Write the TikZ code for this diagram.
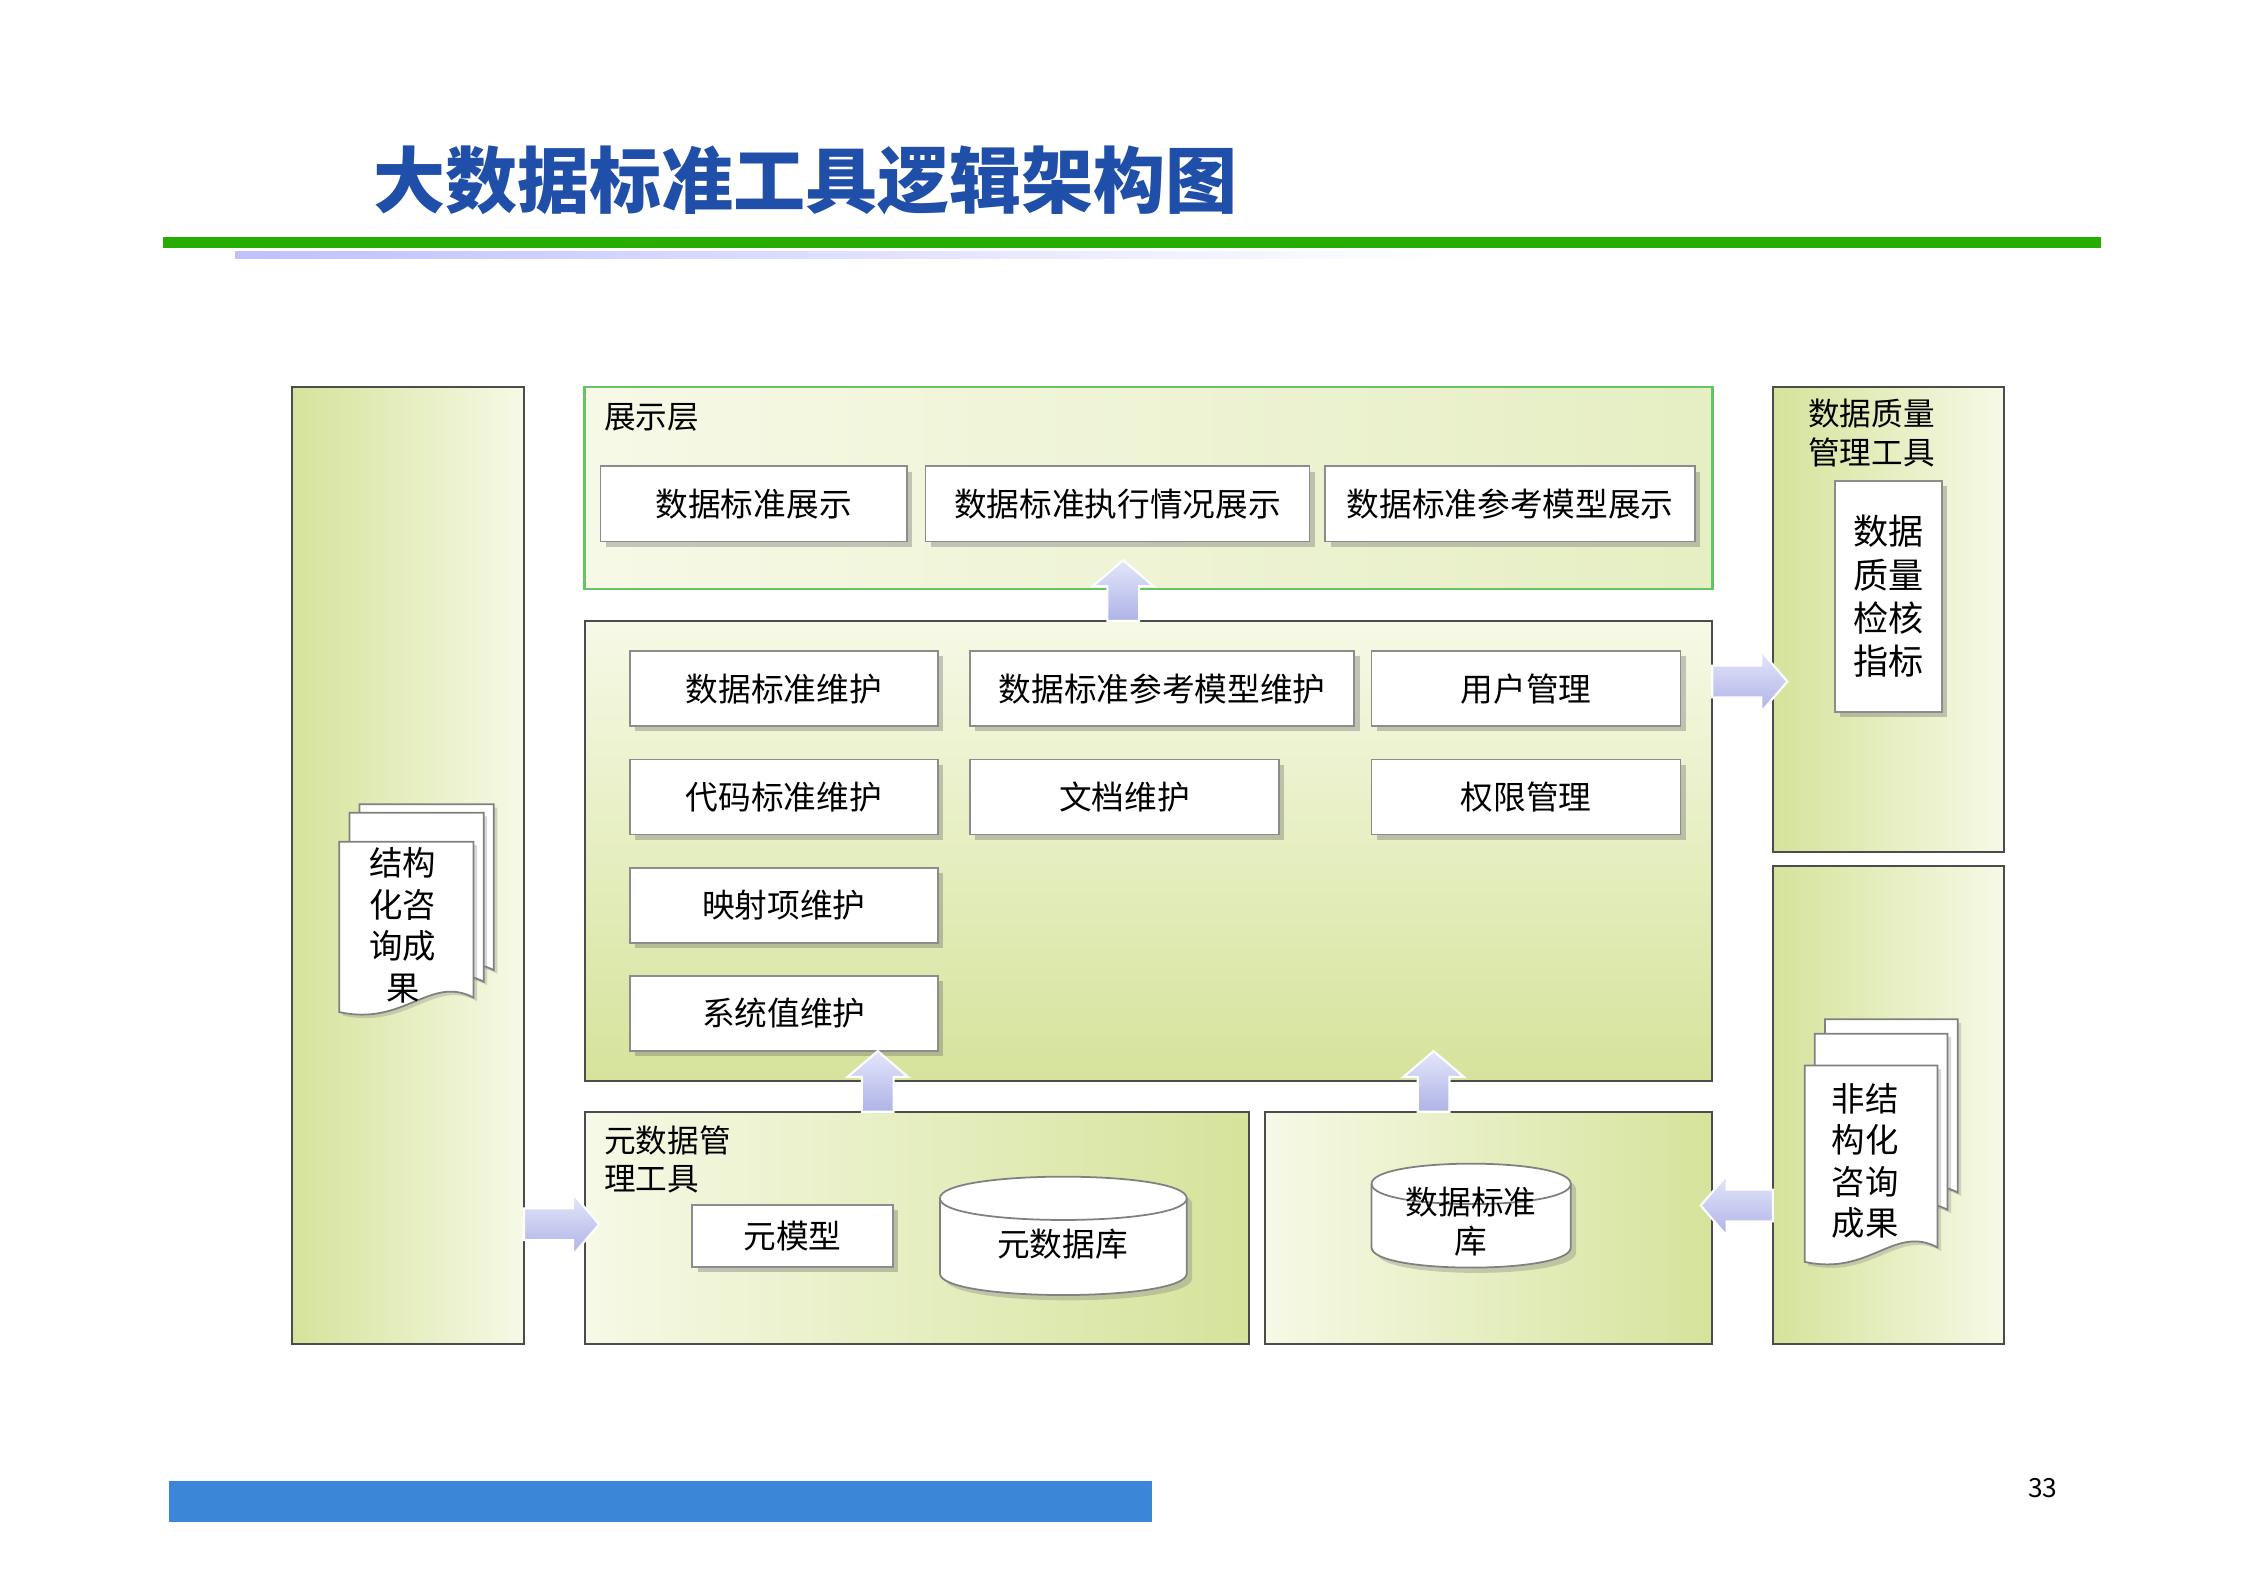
\documentclass[tikz,border=0pt]{standalone}
\usepackage{fontspec}
\setmainfont{Noto Sans CJK SC}
\usetikzlibrary{shadows}
\definecolor{titleblue}{HTML}{1F4FA8}
\definecolor{lgreen}{HTML}{D5E39B}
\definecolor{pgreen}{HTML}{F6F9E6}
\definecolor{arrowA}{HTML}{E4E6FA}
\definecolor{arrowB}{HTML}{AEB3E6}
\newcommand{\uu}{0.01444cm}
\tikzset{
 panel/.style={draw=black!70, line width=0.6pt, left color=lgreen, right color=pgreen},
 mbox/.style={draw=black!45, fill=white, line width=0.5pt, font=\fontsize{9.3}{11}\selectfont, drop shadow={shadow xshift=1.5pt, shadow yshift=-1.5pt, opacity=0.35, fill=black!60}},
 lbl/.style={font=\fontsize{9}{11}\selectfont, align=left, anchor=north west, inner sep=0pt},
 barrow/.style={top color=arrowA, bottom color=arrowB, draw=white, line width=0.6pt},
 doc/.style={fill=white, draw=black!50, line width=0.5pt},
}
\newcommand{\uparr}[3]{% cx, ybottom, ytop
 \filldraw[barrow] (#1-11,#2) -- (#1-11,#3+18) -- (#1-21,#3+18) -- (#1,#3) -- (#1+21,#3+18) -- (#1+11,#3+18) -- (#1+11,#2) -- cycle;}
\newcommand{\rarr}[3]{% cy, xleft, xright
 \filldraw[barrow] (#2,#1-11) -- (#3-18,#1-11) -- (#3-18,#1-21) -- (#3,#1) -- (#3-18,#1+21) -- (#3-18,#1+11) -- (#2,#1+11) -- cycle;}
\newcommand{\larr}[3]{% cy, xleft(tip), xright
 \filldraw[barrow] (#3,#1-11) -- (#2+18,#1-11) -- (#2+18,#1-21) -- (#2,#1) -- (#2+18,#1+21) -- (#2+18,#1+11) -- (#3,#1+11) -- cycle;}
\newcommand{\page}[4]{% l t r b
 \filldraw[doc, drop shadow={shadow xshift=1pt, shadow yshift=-1pt, opacity=0.3}] (#1,#2) -- (#3,#2) -- (#3,#4-14) .. controls (#3-30,#4-30) and (#1+45,#4+6) .. (#1,#4-4) -- cycle;}
\newcommand{\cyl}[5]{% x1 y1 x2 y2 ry
 \filldraw[doc, drop shadow={shadow xshift=1.5pt, shadow yshift=-1.5pt, opacity=0.35}] (#1,#2+#5) -- (#1,#4-#5) .. controls (#1,#4+#5/3) and (#3,#4+#5/3) .. (#3,#4-#5) -- (#3,#2+#5) .. controls (#3,#2-#5/3) and (#1,#2-#5/3) .. (#1,#2+#5) -- cycle;
 \draw[black!50, line width=0.5pt] (#1,#2+#5) .. controls (#1,#2+#5*7/3) and (#3,#2+#5*7/3) .. (#3,#2+#5);}
\begin{document}
\begin{tikzpicture}[x=\uu, y=-\uu]
\useasboundingbox (0,0) rectangle (1555,1100);
% title
\node[anchor=west, inner sep=0pt, text=titleblue, font=\fontsize{20.5}{24}\selectfont\bfseries] (title) at (258,125) {大数据标准工具逻辑架构图};
\fill[green!60!black!80!lime] (113,164) rectangle (1455,172);
\shade[left color=blue!25, right color=white] (163,174) rectangle (1000,179);
\fill[color={rgb,255:red,60;green,134;blue,216}] (117,1026) rectangle (798,1054);
\node[font=\fontsize{7.5}{9}\selectfont] (pg) at (1415,1031) {33};
% panels
\filldraw[panel] (202,268) rectangle (363,931);
\filldraw[draw=green!60!black!60, line width=0.8pt, left color=pgreen, right color=lgreen!60] (405,268) rectangle (1186,408);
\filldraw[draw=black!70, line width=0.6pt, top color=pgreen, bottom color=lgreen] (405,430) rectangle (1186,749);
\filldraw[panel] (1228,268) rectangle (1388,590);
\filldraw[panel] (1228,600) rectangle (1388,931);
\filldraw[draw=black!70, line width=0.6pt, left color=pgreen, right color=lgreen] (405,770) rectangle (865,931);
\filldraw[draw=black!70, line width=0.6pt, left color=pgreen, right color=lgreen] (876,770) rectangle (1186,931);
% labels
\node[lbl] (l1) at (418,279) {展示层};
\node[lbl] (l2) at (1252,276) {数据质量\\管理工具};
\node[lbl] (l3) at (418,779) {元数据管\\理工具};
% display boxes
\node[mbox, minimum width={212*\uu}, minimum height={52*\uu}] (d1) at (522,349) {数据标准展示};
\node[mbox, minimum width={266*\uu}, minimum height={52*\uu}] (d2) at (774,349) {数据标准执行情况展示};
\node[mbox, minimum width={256*\uu}, minimum height={52*\uu}] (d3) at (1046,349) {数据标准参考模型展示};
% middle boxes
\node[mbox, minimum width={213*\uu}, minimum height={52*\uu}] (m1) at (543,477) {数据标准维护};
\node[mbox, minimum width={266*\uu}, minimum height={52*\uu}] (m2) at (805,477) {数据标准参考模型维护};
\node[mbox, minimum width={214*\uu}, minimum height={52*\uu}] (m3) at (1057,477) {用户管理};
\node[mbox, minimum width={213*\uu}, minimum height={52*\uu}] (m4) at (543,552) {代码标准维护};
\node[mbox, minimum width={214*\uu}, minimum height={52*\uu}] (m5) at (779,552) {文档维护};
\node[mbox, minimum width={214*\uu}, minimum height={52*\uu}] (m6) at (1057,552) {权限管理};
\node[mbox, minimum width={213*\uu}, minimum height={52*\uu}] (m7) at (543,627) {映射项维护};
\node[mbox, minimum width={213*\uu}, minimum height={52*\uu}] (m8) at (543,702) {系统值维护};
% quality
\node[mbox, minimum width={74*\uu}, minimum height={160*\uu}, align=center, font=\fontsize{10}{12.3}\selectfont] (q) at (1308,413) {数据\\质量\\检核\\指标};
% meta
\node[mbox, minimum width={139*\uu}, minimum height={43*\uu}] (mm) at (549,856) {元模型};
\cyl{651}{815}{822}{897}{15}
\node[font=\fontsize{9.3}{11}\selectfont] (mdb) at (736,862) {元数据库};
\cyl{950}{806}{1088}{878}{14}
\node[font=\fontsize{9.3}{11}\selectfont, align=center] (sdb) at (1019,846) {数据标准\\库};
% doc stacks
\page{249}{557}{342}{686}
\page{242}{563}{335}{694}
\page{235}{583}{328}{705}
\node[font=\fontsize{9.5}{11.8}\selectfont, align=center] (doc1) at (279,641) {结构\\化咨\\询成\\果};
\page{1264}{706}{1356}{840}
\page{1257}{716}{1349}{852}
\page{1250}{738}{1342}{878}
\node[font=\fontsize{9.5}{11.8}\selectfont, align=center] (doc2) at (1292,804) {非结\\构化\\咨询\\成果};
% arrows
\uparr{778}{430}{388}
\uparr{608}{770}{728}
\uparr{993}{770}{728}
\rarr{472}{1186}{1238}
\rarr{848}{363}{415}
\larr{835}{1178}{1228}
\end{tikzpicture}
\end{document}
